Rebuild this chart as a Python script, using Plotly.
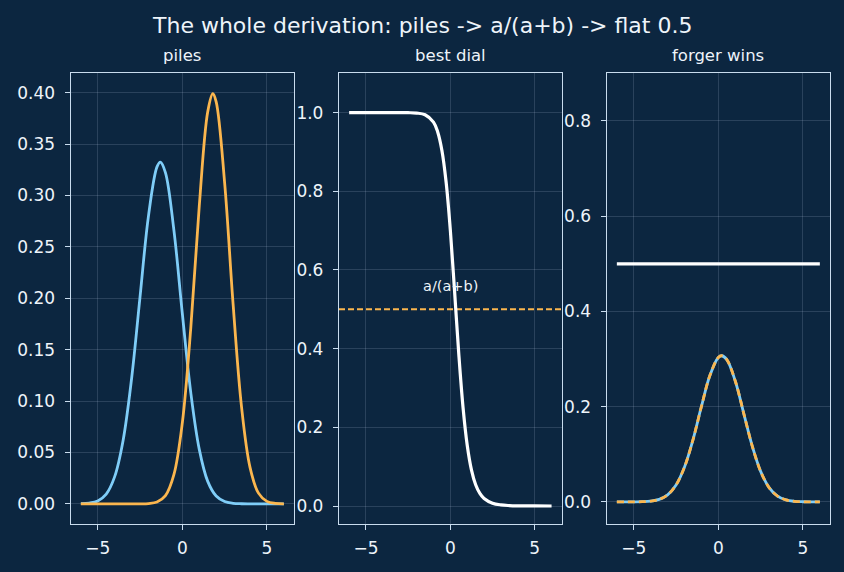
import plotly.graph_objects as go

# ---------------- data ----------------
x_blue = [-6, -5.5, -5, -4.5, -4, -3.5, -3, -2.5, -2, -1.5, -1.3, -1, -0.5, 0, 0.5, 1, 1.5, 2, 2.5, 3, 3.5, 4, 4.5, 5, 5.5, 6]
pile_real = [0.000155, 0.000727, 0.002867, 0.00949, 0.02646, 0.0619, 0.1219, 0.2016, 0.2804, 0.3278, 0.3324,
             0.3222, 0.2662, 0.1849, 0.1079, 0.05296, 0.02184, 0.00758, 0.00221, 0.000541, 0.000111,
             0.0000193, 0.000003, 0, 0, 0]

x_orange = [-6, -5.5, -5, -4.5, -4, -3.5, -3, -2.5, -2, -1.5, -1, -0.5, 0, 0.5, 1, 1.5, 1.8, 2, 2.5, 3, 3.5, 4, 4.5, 5, 5.5, 6]
pile_fake = [0, 0, 0, 0, 0, 0, 0.000004, 0.0000385, 0.000292, 0.001721, 0.007915, 0.02832, 0.07895, 0.1714,
             0.2897, 0.3814, 0.3989, 0.3910, 0.3122, 0.1942, 0.0940, 0.03547, 0.01042, 0.002384, 0.000425, 0.0000588]

x_dial = [-6, -5, -4, -3.5, -3, -2.5, -2, -1.5, -1, -0.75, -0.5, -0.25, 0, 0.25, 0.5, 0.75, 1, 1.25, 1.5,
          1.75, 2, 2.5, 3, 3.5, 4, 5, 6]
dial = [1.0, 1.0, 1.0, 0.99999, 0.99997, 0.99981, 0.99896, 0.99478, 0.97602, 0.9509, 0.9038, 0.8229, 0.7008,
        0.5460, 0.3863, 0.2515, 0.1546, 0.0920, 0.05416, 0.03195, 0.01902, 0.00703, 0.00278, 0.00118,
        0.00054, 0.00014, 0.00005]
dial_ref = [0.5, 0.5]
x_ref = [-6.6, 6.6]

x_final = [-6, -5.5, -5, -4.5, -4, -3.5, -3, -2.5, -2, -1.5, -1, -0.5, 0, 0.2, 0.5, 1, 1.5, 2, 2.5, 3, 3.5, 4, 4.5, 5, 5.5, 6]
final_real = [0.0000035, 0.0000205, 0.000103, 0.000445, 0.001661, 0.005347, 0.01483, 0.03551, 0.07332, 0.1305,
              0.2004, 0.2655, 0.3033, 0.3069, 0.2988, 0.2540, 0.1861, 0.1177, 0.06417, 0.03017, 0.01224,
              0.004281, 0.001291, 0.000336, 0.0000754, 0.0000146]
final_fake = list(final_real)
x_flat = [-6, 6]
flat = [0.5, 0.5]

x_ticks = [-5, 0, 5]
x_tick_text = ["\u22125", "0", "5"]
titles = ["piles", "best dial", "forger wins"]
main_title = "The whole derivation: piles -> a/(a+b) -> flat 0.5"

# ---------------- style ----------------
BG = "#0c2640"
BLUE = "#7fcdf8"
ORANGE = "#fbb64e"
WHITE = "#ffffff"
SPINE = "#c9dcee"
GRID = "rgba(200,220,240,0.16)"
TXT = "#eef4fa"
FONT = "DejaVu Sans"

W, H = 844, 572
doms_x = [(70.7 / W, 294 / W), (339 / W, 561.7 / W), (606.7 / W, 830 / W)]
dom_y = (1 - 524.3 / H, 1 - 73.3 / H)

fig = go.Figure()

def ln(color, width, dash=None):
    d = dict(color=color, width=width, shape="spline")
    if dash:
        d["dash"] = dash
    return d

fig.add_trace(go.Scatter(x=x_blue, y=pile_real, mode="lines", line=ln(BLUE, 2.8), xaxis="x", yaxis="y"))
fig.add_trace(go.Scatter(x=x_orange, y=pile_fake, mode="lines", line=ln(ORANGE, 2.8), xaxis="x", yaxis="y"))

fig.add_trace(go.Scatter(x=x_ref, y=dial_ref, mode="lines", line=dict(color=ORANGE, width=2, dash="6px,3px"),
                         xaxis="x2", yaxis="y2"))
fig.add_trace(go.Scatter(x=x_dial, y=dial, mode="lines", line=ln(WHITE, 3.2), xaxis="x2", yaxis="y2"))

fig.add_trace(go.Scatter(x=x_final, y=final_real, mode="lines", line=ln(BLUE, 2.8), xaxis="x3", yaxis="y3"))
fig.add_trace(go.Scatter(x=x_final, y=final_fake, mode="lines", line=ln(ORANGE, 2.8, "7px,4px"),
                         xaxis="x3", yaxis="y3"))
fig.add_trace(go.Scatter(x=x_flat, y=flat, mode="lines", line=dict(color=WHITE, width=3.2), xaxis="x3", yaxis="y3"))

axis_common = dict(showline=True, mirror=True, linecolor=SPINE, linewidth=1.3,
                   ticks="outside", ticklen=5, tickwidth=1.3, tickcolor=SPINE,
                   showgrid=True, gridcolor=GRID, gridwidth=1, zeroline=False,
                   tickfont=dict(family=FONT, size=17, color=TXT))

y_ranges = [[-0.0199, 0.4188], [-0.0465, 1.1], [-0.047, 0.9]]
y_dtick = [0.05, 0.2, 0.2]
y_fmt = [".2f", ".1f", ".1f"]

layout = dict(width=W, height=H, margin=dict(l=0, r=0, t=0, b=0),
              paper_bgcolor=BG, plot_bgcolor=BG, showlegend=False,
              font=dict(family=FONT, color=TXT))
for i in range(3):
    sx = "" if i == 0 else str(i + 1)
    layout["xaxis" + sx] = dict(axis_common, domain=doms_x[i], range=[-6.6, 6.6],
                                tickmode="array", tickvals=x_ticks, ticktext=x_tick_text,
                                ticklabelstandoff=3, anchor="y" + sx)
    layout["yaxis" + sx] = dict(axis_common, domain=dom_y, range=y_ranges[i],
                                tick0=0, dtick=y_dtick[i], tickformat=y_fmt[i],
                                ticklabelstandoff=6, anchor="x" + sx)
fig.update_layout(**layout)

ann = [dict(text=main_title, x=0.5, y=1 - 25 / H, xref="paper", yref="paper", xanchor="center",
            yanchor="middle", showarrow=False, font=dict(family=FONT, size=22, color=TXT))]
for i, t in enumerate(titles):
    ann.append(dict(text=t, x=(doms_x[i][0] + doms_x[i][1]) / 2, y=dom_y[1], xref="paper", yref="paper",
                    xanchor="center", yanchor="bottom", yshift=6, showarrow=False,
                    font=dict(family=FONT, size=16.5, color=TXT)))
ann.append(dict(text="a/(a+b)", x=0, y=0.56, xref="x2", yref="y2", xanchor="center", yanchor="middle",
                showarrow=False, font=dict(family=FONT, size=14.5, color=TXT)))
fig.update_layout(annotations=ann)

fig.write_html("out.html")
